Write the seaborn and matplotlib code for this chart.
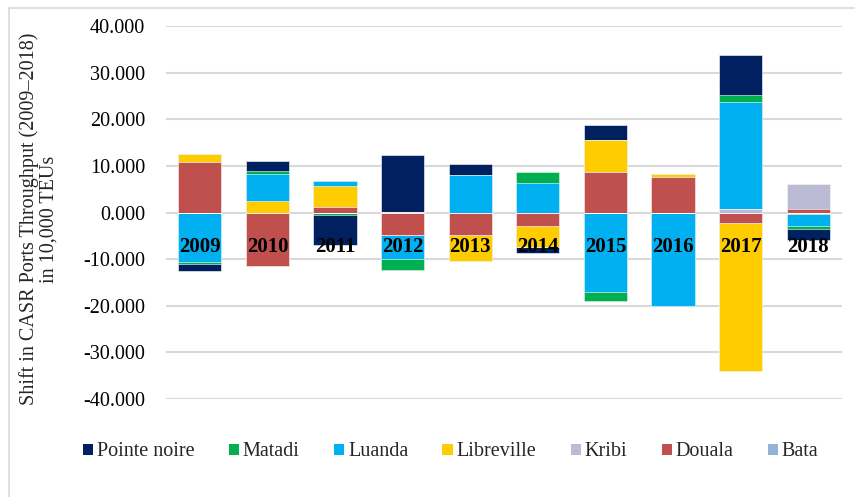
import matplotlib
matplotlib.use("Agg")
import matplotlib.pyplot as plt
from matplotlib.lines import Line2D
from matplotlib.patches import Patch
from matplotlib.ticker import FuncFormatter
import numpy as np
import pandas as pd
import seaborn as sns

# --- Data (shift in throughput, 10,000 TEUs) ---
years = ["2009", "2010", "2011", "2012", "2013", "2014", "2015", "2016", "2017", "2018"]
pointe_noire = [-1.6, 2.3, -6.4, 12.2, 2.2, -1.4, 3.3, 0.0, 8.6, -2.4]
matadi = [-0.3, 0.6, -0.6, -2.4, -0.2, 2.4, -1.9, 0.15, 1.4, -0.6]
luanda = [-10.7, 5.7, 1.2, -5.1, 8.1, 6.3, -17.1, -20.1, 23.0, -2.6]
libreville = [1.6, 2.5, 4.5, 0.0, -5.5, -4.4, 6.9, 0.6, -31.7, -0.4]
kribi = [0.0, 0.0, 0.0, 0.1, 0.0, 0.0, 0.0, 0.0, 0.8, 5.4]
douala = [10.9, -11.4, 1.1, -4.8, -4.8, -2.9, 8.6, 7.6, -2.3, 0.7]
bata = [0.0, 0.0, 0.0, 0.0, 0.0, 0.0, 0.0, 0.0, 0.0, 0.0]

legend_order = ["Pointe noire", "Matadi", "Luanda", "Libreville", "Kribi", "Douala", "Bata"]
colors = {
    "Pointe noire": "#002060",
    "Matadi": "#00B050",
    "Luanda": "#00B0F0",
    "Libreville": "#FFCC00",
    "Kribi": "#BBBBD5",
    "Douala": "#C0504D",
    "Bata": "#95B3D7",
}

df = pd.DataFrame({
    "Pointe noire": pointe_noire, "Matadi": matadi, "Luanda": luanda,
    "Libreville": libreville, "Kribi": kribi, "Douala": douala, "Bata": bata,
}, index=years)

# stacked outward from zero: Bata first, Pointe noire outermost
stack_order = legend_order[::-1]

sns.set_theme(style="white")
plt.rcParams["font.family"] = ["Liberation Serif", "DejaVu Serif"]

fig = plt.figure(figsize=(8.55, 4.97), dpi=100)
ax = fig.add_axes([166 / 855, 1 - 399 / 497, (842 - 166) / 855, (399 - 26) / 497])

for sign in (1, -1):
    part = df[stack_order].where(np.sign(df[stack_order]) == sign, 0.0)
    cum = part.cumsum(axis=1)
    # draw outermost cumulative first, inner ones on top
    for name in stack_order[::-1]:
        plot_df = pd.DataFrame({"year": years, "value": cum[name].values})
        sns.barplot(data=plot_df, x="year", y="value", order=years, color=colors[name],
                    saturation=1, width=0.64, errorbar=None, ax=ax,
                    edgecolor="white", linewidth=0.4, zorder=2)

# year labels inside the plot
for i, y in enumerate(years):
    ax.text(i, -7.4, y, ha="center", va="center", fontsize=15, fontweight="bold",
            color="black", zorder=5)

ax.set_xlim(-0.5, 9.5)
ax.set_ylim(-40, 40)
ax.set_yticks(np.arange(-40, 41, 10))
ax.yaxis.set_major_formatter(FuncFormatter(lambda v, p: f"{v:.3f}"))
ax.tick_params(axis="y", labelsize=14.5, pad=15, length=0, labelcolor="black")
ax.set_xticks([])
ax.set_xlabel("")
ax.set_ylabel("")
ax.grid(axis="y", color="#D9D9D9", linewidth=1.5, zorder=0)
ax.set_axisbelow(True)
for s in ax.spines.values():
    s.set_visible(False)

fig.text(39 / 855, 1 - 219 / 497,
         "Shift in CASR Ports Throughput (2009\u20132018)\nin 10,000 TEUs",
         rotation=90, ha="center", va="center", fontsize=14.5, linespacing=1.0,
         multialignment="center")

handles = [Patch(facecolor=colors[n], edgecolor="none", label=n) for n in legend_order]
fig.legend(handles=handles, loc="center", bbox_to_anchor=(0.527, 1 - 452 / 497), ncol=7,
           frameon=False, fontsize=14.5, handlelength=0.5, handleheight=0.5,
           handletextpad=0.2, columnspacing=1.7)

# chart border (top and left visible in crop)
fig.add_artist(Line2D([9 / 855, 9 / 855], [0, 1 - 8 / 497], transform=fig.transFigure,
                      color="#D9D9D9", linewidth=1.2))
fig.add_artist(Line2D([9 / 855, 1], [1 - 8 / 497, 1 - 8 / 497], transform=fig.transFigure,
                      color="#D9D9D9", linewidth=1.2))

fig.savefig("out.png", dpi=100)
